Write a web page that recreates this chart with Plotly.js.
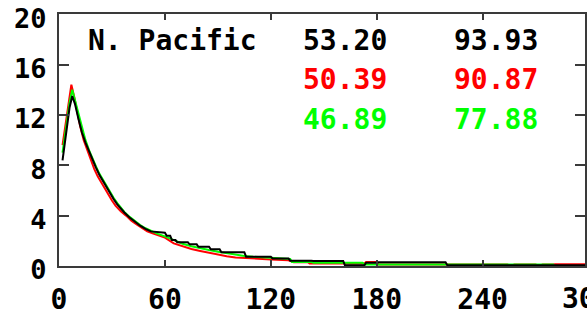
<!DOCTYPE html>
<html>
<head>
<meta charset="utf-8">
<script src="https://cdn.plot.ly/plotly-3.0.1.min.js"></script>
<style>
  html, body { margin: 0; padding: 0; overflow: hidden; background: #fff; }
  #chart { width: 587px; height: 325px; }
</style>
</head>
<body>
<div id="chart"></div>
<script>
// ---- data ----
const blackX = [2, 4, 6, 7.5, 9, 11, 13, 15, 17, 19, 21, 23, 25, 27, 29, 31, 33, 35, 37, 40, 43, 46, 49, 52, 60, 61, 63, 64, 66, 67, 73, 74, 78, 79, 85, 86, 91, 92, 105, 106, 120, 121, 130, 131, 143, 144, 161, 162, 173, 174, 180, 181, 219, 220, 298];
const blackY = [8.4, 10.6, 12.6, 13.5, 12.9, 11.7, 10.6, 9.8, 9.1, 8.4, 7.8, 7.2, 6.7, 6.2, 5.7, 5.3, 4.9, 4.55, 4.25, 3.85, 3.5, 3.2, 2.95, 2.75, 2.65, 2.4, 2.4, 2.06, 2.06, 1.88, 1.88, 1.72, 1.72, 1.53, 1.53, 1.33, 1.33, 1.09, 1.09, 0.74, 0.74, 0.6, 0.6, 0.42, 0.42, 0.4, 0.4, 0.05, 0.05, 0.26, 0.26, 0.29, 0.29, 0.06, 0.06];

const redX = [2, 4, 5.5, 7, 8.5, 10, 12, 14, 16, 18, 20, 22, 24, 26, 28, 30, 32, 35, 38, 41, 44, 47, 50, 53, 56, 60, 65, 70, 75, 80, 85, 90, 95, 100, 110, 120, 130, 133, 141, 142, 173, 174, 180, 181, 254, 256, 258, 270, 272, 274, 280, 281, 298];
const redY = [9.6, 11.5, 13.0, 14.4, 13.5, 12.4, 11.1, 10.0, 9.2, 8.4, 7.7, 7.1, 6.6, 6.1, 5.6, 5.2, 4.8, 4.35, 4.0, 3.6, 3.3, 3.0, 2.75, 2.6, 2.45, 2.25, 1.8, 1.55, 1.35, 1.2, 1.05, 0.9, 0.78, 0.68, 0.58, 0.52, 0.45, 0.3, 0.3, 0.2, 0.2, 0.32, 0.32, 0.12, 0.12, 0.0, 0.12, 0.12, 0.0, 0.12, 0.12, 0.14, 0.14];

const greenX = [2, 4, 6, 7.5, 9, 11, 13, 15, 17, 19, 21, 23, 25, 27, 29, 31, 33, 35, 37, 40, 43, 46, 49, 52, 56, 60, 65, 70, 75, 80, 85, 90, 95, 100, 105, 110, 120, 131, 132, 143, 144, 172, 173, 280, 281, 298];
const greenY = [9.0, 11.2, 13.0, 14.0, 13.2, 12.0, 10.9, 10.0, 9.2, 8.5, 7.9, 7.3, 6.8, 6.3, 5.85, 5.4, 5.0, 4.65, 4.3, 3.9, 3.55, 3.25, 3.0, 2.78, 2.55, 2.35, 2.05, 1.77, 1.57, 1.4, 1.27, 1.14, 1.02, 0.9, 0.8, 0.73, 0.65, 0.55, 0.32, 0.32, 0.25, 0.25, 0.12, 0.12, 0.0, 0.0];

const regionLabel = "N. Pacific";
const statsBlack = ["53.20", "93.93"];
const statsRed = ["50.39", "90.87"];
const statsGreen = ["46.89", "77.88"];

const xTickVals = [0, 60, 120, 180, 240];
const xTickText = ["0", "60", "120", "180", "240"];
const xLastTick = "300";
const yTickVals = [0, 4, 8, 12, 16, 20];
const yTickText = ["0", "4", "8", "12", "16", "20"];

// ---- styling ----
const FONT = "DejaVu Sans Mono, monospace";
const axisColor = "#3a3a3a";

const traces = [
  { x: redX, y: redY, mode: "lines", line: { color: "#ff0000", width: 2 }, hoverinfo: "skip" },
  { x: greenX, y: greenY, mode: "lines", line: { color: "#00ff00", width: 2 }, hoverinfo: "skip" },
  { x: blackX, y: blackY, mode: "lines", line: { color: "#000000", width: 2 }, hoverinfo: "skip" }
];

const textFont = (c) => ({ family: FONT, size: 28, color: c, weight: "bold" });

const colX = [0.543, 0.830];
const rowY = [0.893, 0.742, 0.583];
const annotations = [
  { text: regionLabel, xref: "paper", yref: "paper", x: 0.215, y: rowY[0], xanchor: "center", yanchor: "middle", showarrow: false, font: textFont("#000") }
];
[statsBlack, statsRed, statsGreen].forEach((row, i) => {
  const col = ["#000000", "#ff0000", "#00ff00"][i];
  row.forEach((t, j) => {
    annotations.push({ text: t, xref: "paper", yref: "paper", x: colX[j], y: rowY[i], xanchor: "center", yanchor: "middle", showarrow: false, font: textFont(col) });
  });
});
// last x tick label sits just past the right edge of the frame (clipped by the page, as in the reference)
annotations.push({ text: xLastTick, xref: "paper", yref: "paper", x: 1.0057, y: -0.127, xanchor: "center", yanchor: "middle", showarrow: false, font: textFont("#000") });

const layout = {
  width: 587, height: 325,
  margin: { l: 59, r: 2, t: 14, b: 59, pad: 0 },
  paper_bgcolor: "#ffffff", plot_bgcolor: "#ffffff",
  showlegend: false,
  xaxis: {
    range: [0, 298], tickvals: xTickVals, ticktext: xTickText,
    ticks: "inside", ticklen: 6, tickwidth: 2, tickcolor: axisColor,
    showline: true, linecolor: axisColor, linewidth: 2, mirror: "ticks",
    showgrid: false, zeroline: false, tickfont: textFont("#000"),
    ticklabelstandoff: 7
  },
  yaxis: {
    range: [0, 20.02], tickvals: yTickVals, ticktext: yTickText,
    ticks: "inside", ticklen: 10, tickwidth: 2, tickcolor: axisColor,
    showline: true, linecolor: axisColor, linewidth: 2, mirror: "ticks",
    showgrid: false, zeroline: false, tickfont: { family: FONT, size: 27, color: "#000", weight: "bold" },
    ticklabelstandoff: 5, ticklabelshift: 4, ticklabeloverflow: "allow"
  },
  annotations: annotations
};

Plotly.newPlot("chart", traces, layout, { staticPlot: true, displayModeBar: false });
</script>
</body>
</html>
